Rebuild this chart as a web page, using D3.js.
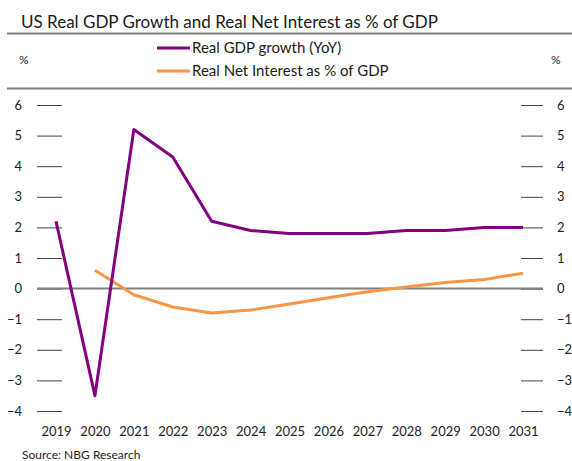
<!DOCTYPE html>
<html>
<head>
<meta charset="utf-8">
<script src="https://cdn.jsdelivr.net/npm/d3@7"></script>
<style>
  html, body { margin: 0; padding: 0; background: #fff; }
  svg { display: block; font-family: Lato, "Open Sans", sans-serif; }
</style>
</head>
<body>
<svg id="chart" width="572" height="461"></svg>
<script>
// Years on the x axis
const years = ["2019","2020","2021","2022","2023","2024","2025","2026","2027","2028","2029","2030","2031"];
// Real GDP growth, year on year (%)
const gdpGrowth = [2.2, -3.5, 5.2, 4.3, 2.2, 1.9, 1.8, 1.8, 1.8, 1.9, 1.9, 2.0, 2.0];
// Real net interest as % of GDP (no value for 2019)
const netInterest = [null, 0.6, -0.2, -0.6, -0.8, -0.7, -0.5, -0.3, -0.1, 0.05, 0.2, 0.3, 0.5];
// Y tick values
const yTicks = [6, 5, 4, 3, 2, 1, 0, -1, -2, -3, -4];

const svg = d3.select("#chart");

const x = d3.scalePoint().domain(years).range([56, 523]);
const y = d3.scaleLinear().domain([-4, 6]).range([411, 105]);

// Title and header rules
svg.append("text").attr("x", 21).attr("y", 28)
  .attr("font-size", 17).attr("fill", "#1a1a1a")
  .text("US Real GDP Growth and Real Net Interest as % of GDP");
svg.append("line").attr("x1", 7).attr("x2", 572).attr("y1", 33.5).attr("y2", 33.5)
  .attr("stroke", "#7f7f7f").attr("stroke-width", 2);
svg.append("line").attr("x1", 7).attr("x2", 572).attr("y1", 88.5).attr("y2", 88.5)
  .attr("stroke", "#7f7f7f").attr("stroke-width", 2);

// Unit labels
svg.append("text").attr("x", 19).attr("y", 64).attr("font-size", 12).attr("fill", "#222").text("%");
svg.append("text").attr("x", 551).attr("y", 64).attr("font-size", 12).attr("fill", "#222").text("%");

// Legend
const legend = [
  { name: "Real GDP growth (YoY)", color: "#800080", y: 48 },
  { name: "Real Net Interest as % of GDP", color: "#F79646", y: 71 }
];
legend.forEach(d => {
  svg.append("line").attr("x1", 157).attr("x2", 190).attr("y1", d.y).attr("y2", d.y)
    .attr("stroke", d.color).attr("stroke-width", 3);
  svg.append("text").attr("x", 192).attr("y", d.y + 5).attr("font-size", 15).attr("fill", "#1a1a1a").text(d.name);
});

// Left axis: short tick marks with labels
const leftAxis = d3.axisLeft(y).tickValues(yTicks).tickSize(25).tickPadding(15).tickFormat(d3.format("d"));
const gl = svg.append("g").attr("transform", "translate(62,0)").call(leftAxis);
gl.select(".domain").remove();
gl.selectAll(".tick line").attr("stroke", "#444");
gl.selectAll(".tick text").attr("font-size", 13).attr("fill", "#222").attr("font-family", "Lato, sans-serif");

// Right axis
const rightAxis = d3.axisRight(y).tickValues(yTicks).tickSize(22).tickPadding(14).tickFormat(d3.format("d"));
const gr = svg.append("g").attr("transform", "translate(521,0)").call(rightAxis);
gr.select(".domain").remove();
gr.selectAll(".tick line").attr("stroke", "#444");
gr.selectAll(".tick text").attr("font-size", 13).attr("fill", "#222").attr("font-family", "Lato, sans-serif");

// Zero line
svg.append("line").attr("x1", 37).attr("x2", 543).attr("y1", y(0)).attr("y2", y(0))
  .attr("stroke", "#7f7f7f").attr("stroke-width", 2);

// X axis labels
const xAxis = d3.axisBottom(x).tickSize(0).tickPadding(0);
const gx = svg.append("g").attr("transform", "translate(0,427)").call(xAxis);
gx.select(".domain").remove();
gx.selectAll(".tick text").attr("font-size", 13).attr("fill", "#222").attr("font-family", "Lato, sans-serif");

// Series lines
const line = d3.line()
  .defined(d => d.v !== null)
  .x(d => x(d.year))
  .y(d => y(d.v));

svg.append("path")
  .datum(years.map((yr, i) => ({ year: yr, v: netInterest[i] })))
  .attr("d", line).attr("fill", "none")
  .attr("stroke", "#F79646").attr("stroke-width", 3).attr("stroke-linejoin", "round");

svg.append("path")
  .datum(years.map((yr, i) => ({ year: yr, v: gdpGrowth[i] })))
  .attr("d", line).attr("fill", "none")
  .attr("stroke", "#800080").attr("stroke-width", 3).attr("stroke-linejoin", "round");

// Source note
svg.append("text").attr("x", 22).attr("y", 459).attr("font-size", 12).attr("fill", "#222")
  .text("Source: NBG Research");
</script>
</body>
</html>
